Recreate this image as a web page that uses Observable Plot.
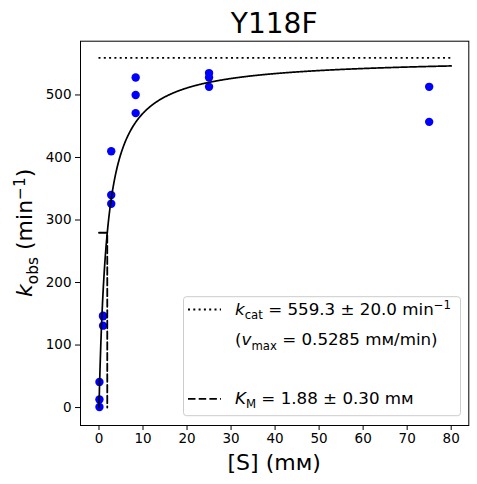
<!DOCTYPE html>
<html>
<head>
<meta charset="utf-8">
<script src="https://cdn.jsdelivr.net/npm/d3@7"></script>
<script src="https://cdn.jsdelivr.net/npm/@observablehq/plot@0.6"></script>
<style>
  html, body { margin: 0; padding: 0; background: #fff; }
  #chart { width: 477px; height: 484px; }
</style>
</head>
<body>
<div id="chart"></div>
<script>
// ---- data ----
const substrate = [0.103, 0.103, 0.103, 0.926, 0.926, 0.926, 2.78, 2.78, 2.78, 8.33, 8.33, 8.33, 25, 25, 25, 75, 75];
const kobs      = [1, 13, 41, 131, 146, 147, 326, 340, 410, 471, 500, 528, 513, 528, 535, 457, 513];
const xTicks = [0, 10, 20, 30, 40, 50, 60, 70, 80];
const yTicks = [0, 100, 200, 300, 400, 500];
const kcat = [559.3];   // min^-1 (fit)
const KM = [1.88];      // mM (fit)
const fitRange = [0, 80];

const points = substrate.map((s, i) => ({s, v: kobs[i]}));
const fit = d3.range(0, 801).map(i => {
  const s = fitRange[0] + (fitRange[1] - fitRange[0]) * i / 800;
  return {s, v: kcat[0] * s / (KM[0] + s)};
});
const kmPath = [
  {s: fitRange[0], v: kcat[0] / 2},
  {s: KM[0], v: kcat[0] / 2},
  {s: KM[0], v: 0}
];

const FONT = "DejaVu Sans, sans-serif";

const chart = Plot.plot({
  width: 477,
  height: 484,
  marginLeft: 80,
  marginRight: 8.7,
  marginTop: 40.7,
  marginBottom: 59,
  style: {fontFamily: FONT, fontSize: "13.5px", color: "black", background: "white"},
  x: {domain: [-4.2, 84]},
  y: {domain: [-28.7, 586]},
  marks: [
    Plot.dot(points, {x: "s", y: "v", r: 4.2, fill: "#0000ff", stroke: "none"}),
    Plot.ruleY(kcat, {x1: fitRange[0], x2: fitRange[1], stroke: "black", strokeWidth: 1.8, strokeDasharray: "2,3.3"}),
    Plot.line(fit, {x: "s", y: "v", stroke: "black", strokeWidth: 1.7}),
    Plot.line(kmPath, {x: "s", y: "v", stroke: "black", strokeWidth: 1.8, strokeDasharray: "7.5,3.2"}),
    Plot.frame({stroke: "black", strokeWidth: 1}),
    Plot.axisX({ticks: xTicks, tickSize: 5, tickPadding: 3, label: null, fontSize: 13.5}),
    Plot.axisY({ticks: yTicks, tickSize: 5, tickPadding: 4, label: null, fontSize: 13.5})
  ]
});
document.getElementById("chart").appendChild(chart);

// ---- text with sub/superscripts (title, axis labels, legend) ----
const svg = d3.select(chart);

function rich(g, parts, fs, anchor) {
  const t = g.append("text").attr("font-family", FONT).attr("font-size", fs).attr("fill", "black")
    .attr("text-anchor", anchor || "start");
  let shift = 0;
  for (const p of parts) {
    const ts = t.append("tspan").text(p.t);
    let target = 0, size = fs;
    if (p.k === "sub") { target = fs * 0.28; size = fs * 0.7; }
    if (p.k === "sup") { target = -fs * 0.33; size = fs * 0.7; }
    ts.attr("font-size", size).attr("dy", target - shift);
    if (p.i) ts.attr("font-style", "italic");
    shift = target;
  }
  return t;
}

// title
svg.append("text").attr("x", 274.2).attr("y", 32.5).attr("text-anchor", "middle")
  .attr("font-family", FONT).attr("font-size", 28).attr("fill", "black").text("Y118F");

// x label
svg.append("text").attr("x", 274.2).attr("y", 469.5).attr("text-anchor", "middle")
  .attr("font-family", FONT).attr("font-size", 22).attr("fill", "black").text("[S] (mᴍ)");

// y label
const yl = svg.append("g").attr("transform", "translate(32,232.8) rotate(-90)");
rich(yl, [{t: "k", i: true}, {t: "obs", k: "sub"}, {t: " (min"}, {t: "−1", k: "sup"}, {t: ")"}], 22, "middle");

// legend
const lg = svg.append("g");
lg.append("rect").attr("x", 183.5).attr("y", 296.7).attr("width", 277).attr("height", 119)
  .attr("rx", 3).attr("fill", "white").attr("fill-opacity", 0.8).attr("stroke", "#cccccc").attr("stroke-width", 1);
lg.append("line").attr("x1", 188).attr("x2", 221).attr("y1", 309.5).attr("y2", 309.5)
  .attr("stroke", "black").attr("stroke-width", 1.8).attr("stroke-dasharray", "2,3.3");
lg.append("line").attr("x1", 188).attr("x2", 221).attr("y1", 398.8).attr("y2", 398.8)
  .attr("stroke", "black").attr("stroke-width", 1.8).attr("stroke-dasharray", "7.5,3.2");
const LF = 16.7;
rich(lg.append("g").attr("transform", "translate(235,314.5)"),
  [{t: "k", i: true}, {t: "cat", k: "sub"}, {t: " = 559.3 ± 20.0 min"}, {t: "−1", k: "sup"}], LF);
rich(lg.append("g").attr("transform", "translate(235,345)"),
  [{t: "("}, {t: "v", i: true}, {t: "max", k: "sub"}, {t: " = 0.5285 mᴍ/min)"}], LF);
rich(lg.append("g").attr("transform", "translate(235,403.5)"),
  [{t: "K", i: true}, {t: "M", k: "sub"}, {t: " = 1.88 ± 0.30 mᴍ"}], LF);
</script>
</body>
</html>
